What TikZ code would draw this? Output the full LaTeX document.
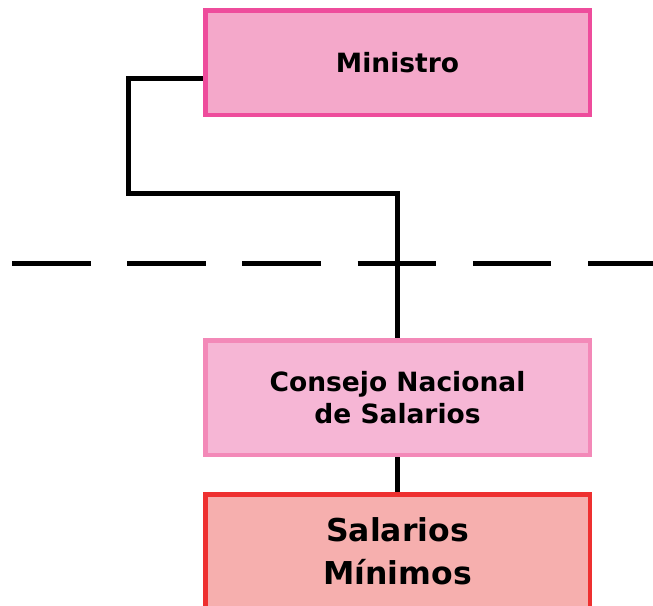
\documentclass[tikz,border=0pt]{standalone}
\usepackage{fontspec}
\setmainfont{DejaVu Sans}
\definecolor{minfill}{HTML}{F4A8CA}
\definecolor{mindraw}{HTML}{EE4C9C}
\definecolor{cnsfill}{HTML}{F6B6D5}
\definecolor{cnsdraw}{HTML}{F389B8}
\definecolor{salfill}{HTML}{F6AFAE}
\definecolor{saldraw}{HTML}{EE3030}
\begin{document}
\begin{tikzpicture}[x=1pt,y=-1pt,
		orgbox/.style={line width=4.5pt,minimum width=384.5pt,align=center,font=\bfseries},
		link/.style={line width=5pt}]
		\useasboundingbox (0,0) rectangle (653,605);
		\node[orgbox,fill=minfill,draw=mindraw,minimum height=104.5pt,font=\bfseries\fontsize{26.5}{32}\selectfont] (ministro) at (397.5,62.5) {Ministro};
		\node[orgbox,fill=cnsfill,draw=cnsdraw,minimum height=114.5pt,font=\bfseries\fontsize{26.5}{32}\selectfont] (consejo) at (397.5,397.5) {Consejo Nacional\\de Salarios};
		\node[orgbox,fill=salfill,draw=saldraw,minimum height=114.5pt,font=\bfseries\fontsize{31.5}{43}\selectfont] (salarios) at (397.5,551.5) {Salarios\\Mínimos};
		\coordinate (bend) at (128,193);
		\coordinate (lineL) at (12,263.5);
		\coordinate (lineR) at (653,263.5);
		\draw[link,dash pattern=on 78.5pt off 36.7pt] (lineL) -- (lineR);
		\draw[link] ([yshift=-15.5pt]ministro.west) -| (bend) -| (consejo.north);
		\draw[link] (consejo.south) -- (salarios.north);
	\end{tikzpicture}
\end{document}
